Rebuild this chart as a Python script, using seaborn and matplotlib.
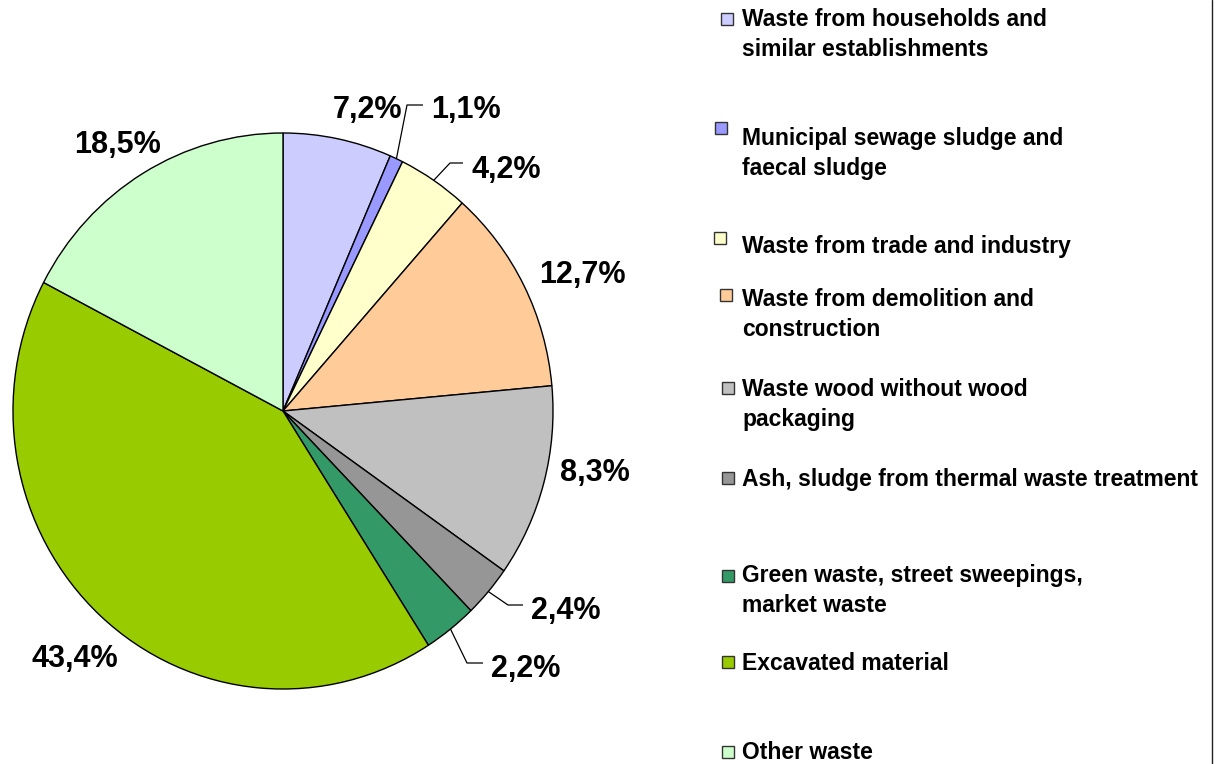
import numpy as np
import matplotlib
matplotlib.use("Agg")
import matplotlib.pyplot as plt
from matplotlib.patches import Rectangle
import seaborn as sns

# ---------------- data ----------------
categories = [
    "Waste from households and\nsimilar establishments",
    "Municipal sewage sludge and\nfaecal sludge",
    "Waste from trade and industry",
    "Waste from demolition and\nconstruction",
    "Waste wood without wood\npackaging",
    "Ash, sludge from thermal waste treatment",
    "Green waste, street sweepings,\nmarket waste",
    "Excavated material",
    "Other waste",
]
# slice shares as drawn in the picture (percent)
shares = [6.5, 0.8, 4.25, 12.0, 11.2, 3.0, 3.2, 41.7, 17.35]
# printed percentage labels
pct_labels = ["7,2%", "1,1%", "4,2%", "12,7%", "8,3%", "2,4%", "2,2%", "43,4%", "18,5%"]
colors = ["#CCCCFF", "#9999FF", "#FFFFCC", "#FFCC99", "#C0C0C0",
          "#969696", "#339966", "#99CC00", "#CCFFCC"]

# ---------------- style ----------------
sns.set_theme(style="white")
plt.rcParams["font.family"] = ["Liberation Sans", "DejaVu Sans"]

W, H = 1223, 764
fig = plt.figure(figsize=(W / 100, H / 100), dpi=100)
fig.patch.set_facecolor("white")

cx, cy, rx, ry = 283, 411, 270, 278
ax = fig.add_axes([(cx - rx) / W, (H - cy - ry) / H, 2 * rx / W, 2 * ry / H])
wedges, _ = ax.pie(shares, colors=colors, startangle=90, counterclock=False,
                   wedgeprops=dict(edgecolor="black", linewidth=1.0))
ax.set_aspect("auto")
ax.set_xlim(-1, 1)
ax.set_ylim(-1, 1)
ax.axis("off")

def px2d(px, py):
    return (px - cx) / rx, (cy - py) / ry

# label centre positions in pixels (layout)
label_pos = [(368, 107), (466, 107), (506, 167), (582, 272), (595, 470),
             (566, 608), (526, 666), (75, 656), (117, 142)]
for lab, (px, py) in zip(pct_labels, label_pos):
    x, y = px2d(px, py + 11)
    ax.text(x, y, lab, ha="center", va="baseline", fontsize=22,
            fontweight="bold", color="black", clip_on=False)

# leader lines: (wedge index, elbow px, end px)
leaders = {1: ((407, 105), (423, 105)),
           2: ((450, 163), (463, 163)),
           5: ((508, 605), (523, 605)),
           6: ((467, 663), (483, 663))}
for i, (elb, end) in leaders.items():
    w = wedges[i]
    th = np.deg2rad((w.theta1 + w.theta2) / 2)
    x0, y0 = np.cos(th) * 1.0, np.sin(th) * 1.0
    x1, y1 = px2d(*elb)
    x2, y2 = px2d(*end)
    ax.plot([x0, x1, x2], [y0, y1, y2], color="black", lw=0.9,
            clip_on=False, solid_capstyle="butt")

# ---------------- legend ----------------
# marker (x, y top) in px, and first-line centre y of the text
leg_marker = [(721, 13), (715, 122), (714, 232), (720, 289), (722, 382),
              (722, 472), (722, 570), (722, 656), (722, 746)]
leg_text_y = [18, 137, 245, 298, 388, 478, 574, 662, 751]
msz = 12
for cat, col, (mx, my), ty in zip(categories, colors, leg_marker, leg_text_y):
    fig.patches.append(Rectangle((mx / W, (H - my - msz) / H), msz / W, msz / H,
                                 transform=fig.transFigure, facecolor=col,
                                 edgecolor="#333333", linewidth=1.0))
    for k, line in enumerate(cat.split("\n")):
        yy = ty + k * 30 + 8
        fig.text(742 / W, (H - yy) / H, line, ha="left", va="baseline",
                 fontsize=16.5, fontweight="bold", color="black")

# right border line of the plot area
fig.add_artist(plt.Line2D([1211.5 / W, 1211.5 / W], [0, 1],
                          transform=fig.transFigure, color="#222222", lw=1.0))

fig.savefig("out.png", dpi=100, facecolor="white")
